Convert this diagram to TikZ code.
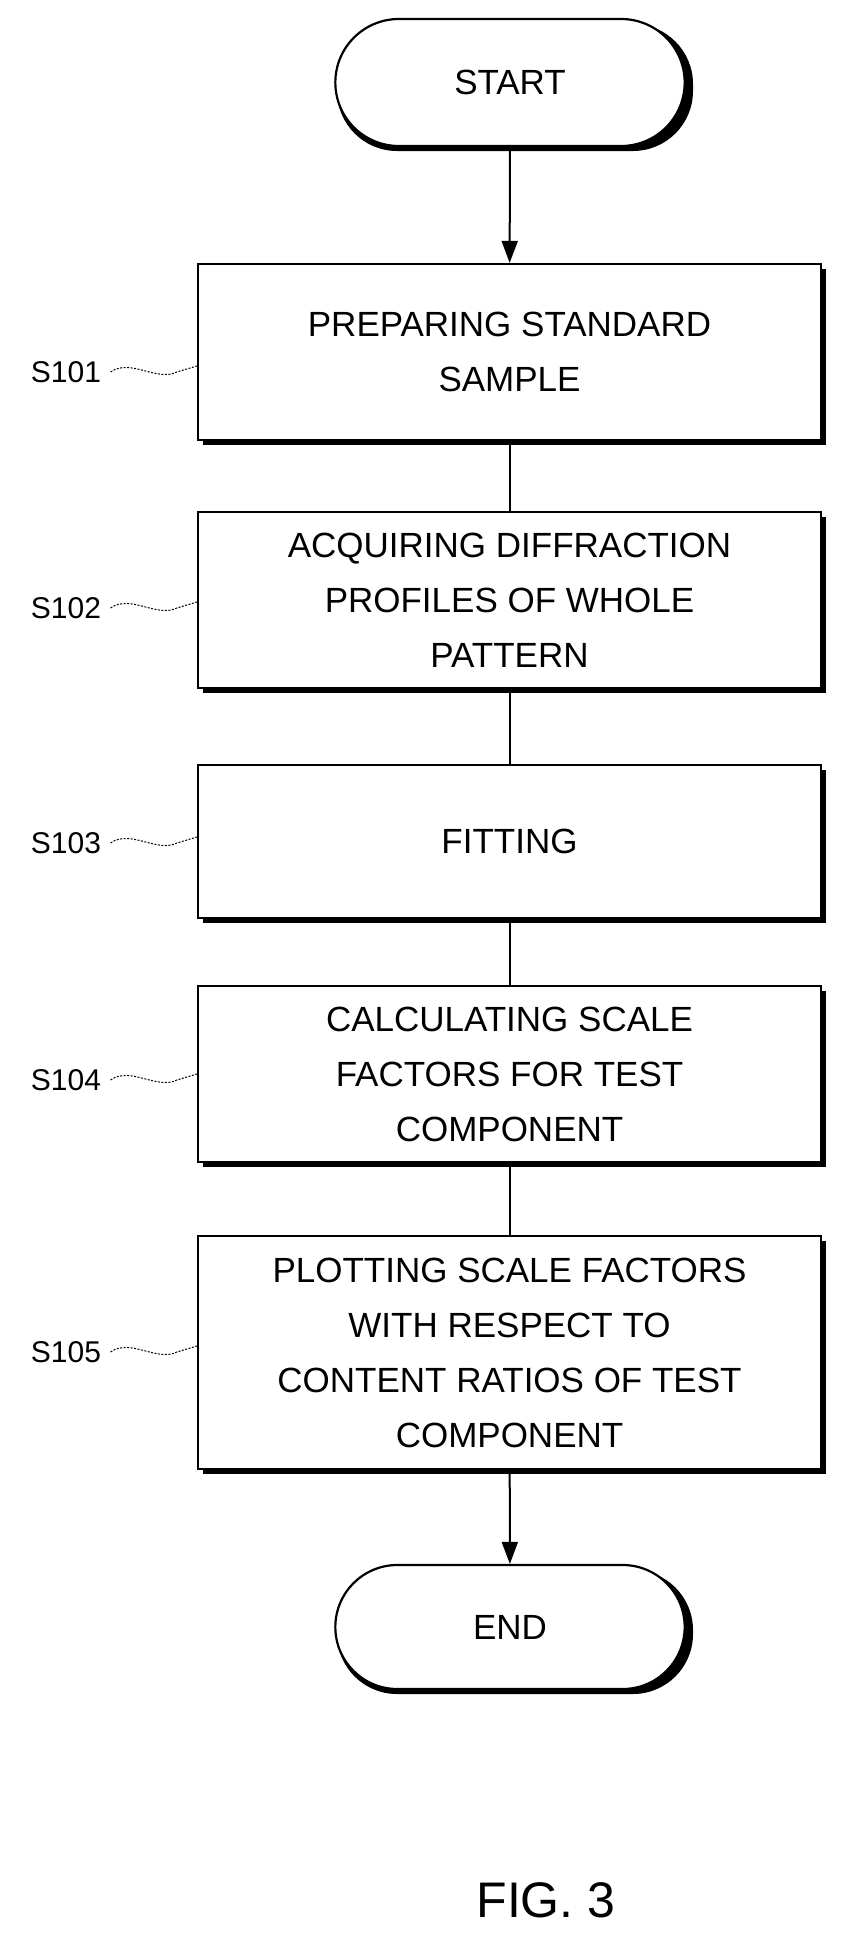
\documentclass[tikz,border=0pt]{standalone}
\usepackage{fontspec}
\setmainfont{Liberation Sans}
\usetikzlibrary{shapes.misc,arrows.meta}
\begin{document}
\begin{tikzpicture}[x=1pt,y=-1pt,
  box/.style={draw,line width=2.2pt,fill=white,minimum width=623pt,align=center,font=\fontsize{35}{55}\selectfont,inner sep=0pt},
  term/.style={draw,line width=2.2pt,fill=white,rounded rectangle,minimum width=356pt,font=\fontsize{35}{55}\selectfont},
  shad/.style={fill=black},
  lbl/.style={font=\fontsize{30}{36}\selectfont},
  conn/.style={line width=2pt},
  sq/.style={line width=1pt,dash pattern=on 2pt off 1.5pt}]
\useasboundingbox (0,0) rectangle (856,1954);
\newcommand{\shbox}[5]{% name, ymin, ymax, text, extra
  \fill (203,#2+5) rectangle (826,#3+5);
  \node[box,minimum height=#3-#2] (#1) at (509.5,{(#2+#3)/2}) {#4};}
% start
\fill[rounded corners=60pt] (337,24) rectangle (693,151);
\node[term,minimum height=127pt] (start) at (510,82.5) {START};
\shbox{s1}{264}{440}{PREPARING STANDARD\\SAMPLE}{}
\shbox{s2}{512}{688}{ACQUIRING DIFFRACTION\\PROFILES OF WHOLE\\PATTERN}{}
\shbox{s3}{765}{918}{FITTING}{}
\shbox{s4}{986}{1162}{CALCULATING SCALE\\FACTORS FOR TEST\\COMPONENT}{}
\shbox{s5}{1236}{1469}{PLOTTING SCALE FACTORS\\WITH RESPECT TO\\CONTENT RATIOS OF TEST\\COMPONENT}{}
\fill[rounded corners=60pt] (337,1570) rectangle (693,1694);
\node[term,minimum height=124pt] (end) at (510,1627) {END};
\draw[conn,-{Triangle[length=22pt,width=16pt]}] (start) -- (s1);
\draw[conn] (s1) -- (s2);
\draw[conn] (s2) -- (s3);
\draw[conn] (s3) -- (s4);
\draw[conn] (s4) -- (s5);
\draw[conn,-{Triangle[length=22pt,width=16pt]}] (s5) -- (end);
\foreach \n/\t/\y in {s1/S101/372, s2/S102/608, s3/S103/843, s4/S104/1080, s5/S105/1352}{
  \node[lbl] (l\n) at (66,\y) {\t};
  \draw[sq] (l\n.east) ++(6,0) .. controls +(20,-14) and +(-20,10) .. ([xshift=-20pt,yshift=0pt]\n.west |- 0,\y) .. controls +(10,-3) .. (\n.west |- 0,\y-6);
}
\node[font=\fontsize{50}{60}\selectfont] (fig) at (546,1900) {FIG. 3};
\end{tikzpicture}
\end{document}
